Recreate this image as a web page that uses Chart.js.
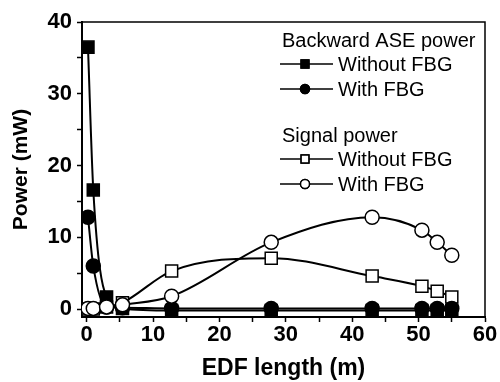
<!DOCTYPE html>
<html>
<head>
<meta charset="utf-8">
<script src="https://cdn.jsdelivr.net/npm/chart.js@4.4.1/dist/chart.umd.min.js"></script>
<style>
  html, body { margin: 0; padding: 0; background: #fff; }
  #wrap { width: 500px; height: 382px; }
</style>
</head>
<body>
<div id="wrap"><canvas id="myChart" width="500" height="382"></canvas></div>
<script>
// EDF length (m) for each measured point
var edfLength = [0.2, 1, 3, 5.4, 12.8, 27.8, 43, 50.5, 52.8, 55];

// Backward ASE power (mW)
var aseWithoutFbg = [36.5, 16.6, 1.7, 0.1, -0.2, -0.2, -0.2, -0.2, -0.2, -0.2];
var aseWithFbg = [12.8, 6.0, 0.3, 0.2, 0.1, 0.1, 0.1, 0.1, 0.1, 0.1];

// Signal power (mW)
var signalWithoutFbg = [0, 0, 0.3, 0.9, 5.3, 7.1, 4.6, 3.2, 2.5, 1.7];
var signalWithFbg = [0.1, 0.1, 0.3, 0.6, 1.8, 9.3, 12.8, 11.0, 9.3, 7.5];

var xTicks = [0, 10, 20, 30, 40, 50, 60];
var yTicks = [0, 10, 20, 30, 40];

var legendGroups = [
  { title: 'Backward ASE power', items: [
    { label: 'Without FBG', style: 'rect', fill: '#000' },
    { label: 'With FBG', style: 'circle', fill: '#000' }
  ]},
  { title: 'Signal power', items: [
    { label: 'Without FBG', style: 'rect', fill: '#fff' },
    { label: 'With FBG', style: 'circle', fill: '#fff' }
  ]}
];

function points(ys) {
  return edfLength.map(function(x, i) { return { x: x, y: ys[i] }; });
}

var FONT = '"Liberation Sans", Arial, sans-serif';

// frame on top and right + text legend
var framePlugin = {
  id: 'frame',
  afterDraw: function(chart) {
    var ctx = chart.ctx, a = chart.chartArea;
    ctx.save();
    ctx.strokeStyle = '#000';
    ctx.lineWidth = 1.5;
    ctx.beginPath();
    ctx.moveTo(a.left, a.top);
    ctx.lineTo(a.right, a.top);
    ctx.lineTo(a.right, a.bottom);
    ctx.stroke();

    ctx.font = '20px ' + FONT;
    ctx.fillStyle = '#000';
    ctx.textBaseline = 'middle';
    var rowY = [[40, 64, 89], [135, 159, 184]];
    legendGroups.forEach(function(g, gi) {
      ctx.fillText(g.title, 282, rowY[gi][0] + 1);
      g.items.forEach(function(it, ii) {
        var y = rowY[gi][ii + 1];
        ctx.lineWidth = 1.5;
        ctx.strokeStyle = '#000';
        ctx.beginPath();
        ctx.moveTo(280, y);
        ctx.lineTo(333, y);
        ctx.stroke();
        Chart.helpers.drawPoint(ctx, {
          pointStyle: it.style, radius: it.style === 'rect' ? 5.5 : 4.5,
          borderWidth: 1.2, rotation: 0
        }, 305, y);
        ctx.fillStyle = it.fill;
        ctx.fill();
        ctx.stroke();
        ctx.fillStyle = '#000';
        ctx.fillText(it.label, 338, y + 1);
      });
    });
    ctx.restore();
  }
};

function series(ys, style, fill, order) {
  return {
    data: points(ys),
    borderColor: '#000',
    borderWidth: 2,
    pointStyle: style,
    pointRadius: style === 'rect' ? 8.5 : 7,
    pointBackgroundColor: fill,
    pointBorderColor: '#000',
    pointBorderWidth: 1.5,
    cubicInterpolationMode: 'monotone',
    order: order
  };
}

var ctx = document.getElementById('myChart').getContext('2d');
var chart = new Chart(ctx, {
  type: 'line',
  data: {
    datasets: [
      series(signalWithFbg, 'circle', '#fff', 0),
      series(aseWithFbg, 'circle', '#000', 1),
      series(aseWithoutFbg, 'rect', '#000', 2),
      series(signalWithoutFbg, 'rect', '#fff', 3)
    ]
  },
  options: {
    responsive: false,
    animation: false,
    layout: { padding: { top: 22, right: 15, left: 0, bottom: 0 } },
    plugins: { legend: { display: false }, tooltip: { enabled: false } },
    scales: {
      x: {
        type: 'linear',
        min: -0.7,
        max: 60,
        afterBuildTicks: function(s) {
          var t = [];
          for (var v = 0; v <= 60; v += 5) t.push({ value: v });
          s.ticks = t;
        },
        afterFit: function(s) { s.height = 65; },
        ticks: {
          color: '#000',
          font: { family: FONT, size: 22, weight: 'bold' },
          padding: 0,
          maxRotation: 0,
          autoSkip: false,
          callback: function(v) { return xTicks.indexOf(v) >= 0 ? String(v) : ''; }
        },
        grid: { drawOnChartArea: false, drawTicks: true, tickLength: 5, color: '#000', tickWidth: 1.5 },
        border: { display: true, color: '#000', width: 2 },
        title: {
          display: true, text: 'EDF length (m)', color: '#000',
          font: { family: FONT, size: 23, weight: 'bold' },
          padding: { top: 2, bottom: 0 }
        }
      },
      y: {
        min: -1.1,
        max: 40,
        afterBuildTicks: function(s) {
          var t = [];
          for (var v = 0; v <= 40; v += 5) t.push({ value: v });
          s.ticks = t;
        },
        afterFit: function(s) { s.width = 82; },
        ticks: {
          color: '#000',
          font: { family: FONT, size: 22, weight: 'bold' },
          padding: 5,
          autoSkip: false,
          callback: function(v) { return yTicks.indexOf(v) >= 0 ? String(v) : ''; }
        },
        grid: { drawOnChartArea: false, drawTicks: true, tickLength: 5, color: '#000', tickWidth: 1.5 },
        border: { display: true, color: '#000', width: 2 },
        title: {
          display: true, text: 'Power (mW)', color: '#000',
          font: { family: FONT, size: 21, weight: 'bold' },
          padding: { top: 9, bottom: 0 }
        }
      }
    }
  },
  plugins: [framePlugin]
});
</script>
</body>
</html>
